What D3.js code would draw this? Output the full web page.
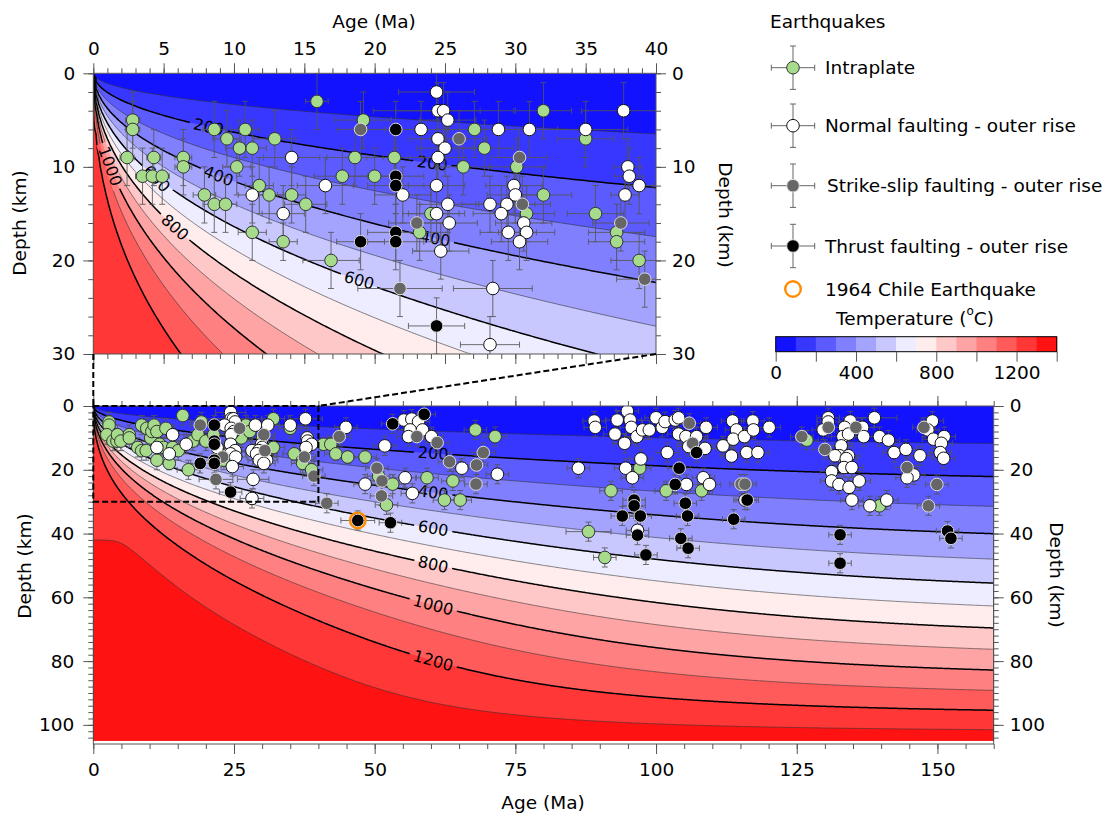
<!DOCTYPE html>
<html>
<head>
<meta charset="utf-8">
<script src="https://cdn.jsdelivr.net/npm/d3@7"></script>
<style>
  body { margin: 0; background: #fff; }
  svg text { font-family: "DejaVu Sans", sans-serif; }
</style>
</head>
<body>
<svg id="chart" width="1115" height="814"></svg>
<script>
// earthquakes: [age (Ma), depth (km), age error (Ma), depth error (km)]
var intraplate = [
  [2.8, 5, 0.5, 3], [2.8, 6, 0.5, 3], [2.4, 9, 0.5, 3], [3.5, 11, 0.5, 3], [4.2, 11, 0.5, 3],
  [4.3, 9, 0.5, 3], [4.9, 11, 0.5, 3], [6.4, 9, 0.6, 3], [6.4, 10, 0.6, 3], [7.9, 13, 0.8, 3],
  [8.6, 6, 0.8, 3], [8.6, 14, 0.8, 3], [9.4, 14, 0.8, 3], [9.5, 7, 1, 3], [10.2, 10, 1, 3],
  [10.4, 8, 1, 3], [10.8, 6, 1, 3], [11.3, 8, 1, 3], [11.3, 17, 1, 3], [11.8, 12, 1, 3],
  [12.5, 13, 1, 3], [12.9, 7, 1.5, 3], [13.5, 18, 1, 2], [14.1, 13, 1, 3], [15.1, 14, 1.5, 3],
  [15.9, 3, 0.8, 3], [16.9, 20, 2, 3], [17.7, 11, 2, 3], [18.6, 9, 2, 3], [19.2, 5, 2, 3],
  [20.0, 11, 2, 3], [21.4, 9, 2, 3], [24.0, 15, 2, 3], [23.2, 17, 2, 3], [26.3, 10, 2, 3],
  [27.1, 6, 2, 3], [27.8, 8, 2, 3], [30.1, 10, 2, 3], [30.8, 15, 2, 3], [32.0, 4, 2, 3],
  [32.0, 13, 2, 3], [35.0, 7, 2, 3], [35.7, 15, 2, 3], [37.2, 17, 2, 3], [37.2, 18, 2, 3],
  [38.8, 20, 2, 3],
  [40.9, 12, 2, 2], [42.2, 12, 2, 2], [43.1, 15, 2, 2], [45.2, 16, 2, 2], [48.3, 16, 2, 2],
  [50.7, 22, 2, 3], [53.2, 24.5, 2, 3], [52.1, 31, 2, 3], [59.3, 22.5, 2, 3], [63.9, 23.5, 2, 3],
  [62.4, 29.5, 2, 3], [65.2, 29.5, 2, 3], [67.9, 7.5, 2, 3], [71.4, 9.6, 2, 3], [88.0, 39.4, 4, 3],
  [90.9, 47.5, 2, 3], [92.0, 26.6, 2, 3], [97.1, 19.5, 2, 3], [101.8, 26.6, 2, 3], [108.1, 26.6, 2, 3],
  [126.8, 10.7, 2, 3], [139.7, 31.3, 2, 3]
];
var normal = [
  [11.3, 13, 1, 3], [13.5, 15, 1.5, 3], [14.1, 9, 2, 3], [16.5, 12, 2, 3], [24.4, 2, 2.7, 3],
  [24.5, 4, 3, 3], [24.9, 4, 5, 3], [25.2, 5, 2, 3], [23.3, 6, 2, 3], [24.5, 7, 2, 3],
  [25.0, 8, 2, 3], [28.8, 6, 2, 3], [31.0, 6, 2, 3], [35.0, 6, 3, 3], [37.7, 4, 3, 3],
  [24.5, 9, 2, 3], [38.0, 10, 1, 3], [38.1, 11, 1, 3], [38.8, 12, 1, 3], [37.8, 13, 1, 3],
  [22.0, 13, 2, 3], [24.4, 12, 2, 3], [29.9, 12, 2, 3], [30.0, 13, 2, 3], [25.2, 14, 2, 3],
  [24.4, 15, 2, 3], [28.2, 14, 2, 3], [29.4, 14, 2, 3], [29.0, 15, 2, 3], [30.6, 16, 2, 3],
  [30.8, 17, 2, 3], [29.5, 17, 2, 3], [30.3, 18, 2, 3], [25.3, 16, 2, 3], [24.7, 19, 2, 3],
  [28.4, 23, 2.8, 3], [28.2, 29, 2.1, 3],
  [44.9, 6.7, 2, 3], [51.8, 12.5, 2, 3], [55.2, 4.4, 2, 3], [56.6, 4.1, 2, 3], [57.8, 4.9, 2, 3],
  [56.3, 7.5, 2, 3], [58.5, 7.5, 2, 3], [56.0, 9.6, 2, 3], [60.1, 9.6, 2, 3], [65.5, 19.5, 2, 3],
  [71.8, 21.4, 2, 3], [48.3, 24.5, 2, 3], [55.4, 22.5, 2, 3], [56.7, 27.4, 2, 3],
  [89.0, 4.7, 2, 3], [89.2, 6.7, 2, 3], [94.9, 1.6, 2, 3], [93.1, 4.4, 2, 3], [95.4, 4.4, 2, 3],
  [95.6, 6.7, 2, 3], [92.7, 8.8, 2, 3], [94.4, 11.7, 2, 3], [96.6, 9.6, 2, 3], [97.6, 7.5, 2, 3],
  [98.8, 7.5, 2, 3], [100.0, 3.7, 2, 3], [101.1, 6.7, 2, 3], [101.6, 4.9, 2, 3], [103.4, 4.4, 2, 3],
  [104.0, 3.7, 2, 3], [104.0, 8.8, 2, 3], [105.3, 9.6, 2, 3], [107.2, 9.6, 2, 3], [105.8, 12.7, 2, 3],
  [108.9, 6.7, 2, 3], [108.7, 13.3, 2, 3], [102.0, 14.6, 2, 3], [111.9, 12.5, 2, 3], [113.4, 15.7, 2, 3],
  [113.6, 4.7, 2, 3], [114.3, 7.5, 2, 3], [113.7, 10.4, 2, 3], [115.7, 9.6, 2, 3], [117.2, 4.7, 2, 3],
  [117.3, 7.5, 2, 3], [116.1, 14.6, 2, 3], [118.1, 14.6, 2, 3],
  [97.3, 16.6, 2, 3], [86.2, 19.5, 2, 3], [94.6, 19.5, 2, 3], [95.8, 22.5, 2, 3], [108.4, 22.5, 2, 3],
  [109.5, 24.6, 2, 3], [105.4, 24.6, 2, 3], [115.8, 29.5, 2, 3], [96.7, 39.0, 2, 3],
  [120.1, 6.7, 2, 3], [130.6, 3.7, 2, 3], [130.6, 5.0, 2, 3], [129.7, 7.5, 2, 3], [134.5, 4.7, 2, 3],
  [136.7, 6.7, 2, 3], [133.5, 6.7, 2, 3], [133.2, 9.6, 2, 3], [134.2, 8.8, 2, 3], [136.9, 9.6, 2, 3],
  [138.8, 3.7, 4, 3], [139.7, 9.6, 2, 3], [141.3, 10.7, 2, 3], [132.9, 12.5, 2, 3], [132.6, 15.6, 2, 3],
  [131.8, 15.6, 2, 3], [134.2, 15.6, 2, 3], [133.8, 16.5, 2, 3], [133.4, 19.3, 2, 3], [134.8, 19.3, 2, 3],
  [131.2, 20.6, 2, 3], [131.2, 23.5, 2, 3], [132.5, 24.6, 2, 3], [134.3, 25.5, 2, 3], [136.1, 23.5, 2, 3],
  [134.8, 29.5, 2, 3], [138.0, 31.3, 2, 3], [141.0, 29.5, 2, 3], [142.3, 14.6, 2, 3], [144.4, 13.6, 2, 3],
  [146.9, 15.6, 2, 3], [145.8, 21.6, 2, 3], [144.6, 22.5, 2, 3], [149.1, 4.7, 2, 3], [148.3, 7.5, 2, 3],
  [149.3, 10.4, 2, 3], [151.2, 9.6, 2, 3], [150.7, 11.7, 2, 3], [150.5, 14.6, 2, 3], [151.1, 16.4, 2, 3]
];
var strikeSlip = [
  [19.0, 6, 1.7, 3], [26.0, 7, 2, 3], [30.3, 9, 2, 3], [30.5, 14, 2, 3], [23.0, 16, 2, 3],
  [37.5, 16, 2, 3], [39.2, 22, 2, 3], [21.8, 23, 3, 3],
  [43.7, 9.6, 2, 3], [57.5, 9.6, 2, 3], [61.1, 11.5, 2, 3], [69.3, 14.6, 2, 3], [63.3, 17.5, 2, 3],
  [68.1, 18.5, 2, 3], [50.4, 19.5, 2, 3], [51.3, 23.5, 2, 3], [68.0, 24.5, 2, 3], [51.2, 28.2, 2, 3],
  [41.5, 30.5, 2, 3], [105.9, 5.4, 2, 3], [106.5, 11.7, 2, 3], [115.1, 24.5, 2, 3], [115.8, 24.5, 2, 3],
  [125.9, 9.6, 2, 3], [130.0, 13.6, 2, 3], [130.6, 6.7, 2, 3], [135.5, 6.7, 2, 3], [144.6, 19.3, 2, 3],
  [149.9, 24.6, 2, 3], [148.4, 31.3, 2, 3], [147.6, 6.7, 2, 3]
];
var thrust = [
  [21.5, 6, 2, 3], [21.5, 11, 2, 3], [21.5, 12, 2, 3], [21.5, 17, 2, 3], [21.5, 18, 2, 3],
  [19.0, 18, 1.7, 3], [24.4, 27, 2, 3],
  [53.2, 5.6, 2, 3], [58.8, 2.6, 2, 3], [47.0, 35.9, 3, 3], [52.8, 36.6, 2, 3], [107.2, 14.6, 2, 3],
  [104.1, 19.5, 2, 3], [103.4, 24.6, 2, 3], [96.1, 29.5, 2, 3], [96.1, 31.3, 2, 3], [105.2, 30.5, 2, 3],
  [116.2, 29.5, 2, 3], [94.0, 34.5, 2, 3], [97.2, 34.5, 2, 3], [105.6, 34.5, 2, 3], [113.8, 35.5, 2, 3],
  [96.7, 40.5, 2, 3], [104.4, 41.5, 2, 3], [105.7, 44.6, 2, 3], [98.2, 46.7, 2, 3], [132.7, 40.4, 2, 3],
  [132.7, 49.3, 2, 3], [151.8, 39.2, 2, 3], [152.4, 41.5, 2, 3]
];
var chile = [[47.0, 35.9]];

var legendNames = ["Intraplate", "Normal faulting - outer rise", "Strike-slip faulting - outer rise", "Thrust faulting - outer rise"];
var isotherms = d3.range(100, 1400, 100);
var topLabels = [[200, 8.2], [200, 24.1], [400, 8.9], [400, 24.3], [600, 4.5], [600, 18.9], [800, 5.8], [1000, 1.2]];
var bottomLabels = [[200, 60.4], [400, 60.4], [600, 60.4], [800, 60.4], [1000, 60.4], [1200, 60.4]];
var cbarTicks = [0, 400, 800, 1200];

var FS = 18.5;
var svg = d3.select("#chart");

// ---- plate cooling model (conductivity and heat capacity from McKenzie et al. 2005) ----
var DZ = 0.5, ZMAX = 106, NZ = ZMAX / DZ + 1;
var DA = 0.2, AMAX = 160, NA = Math.round(AMAX / DA) + 1;
var MA = 3.15576e13, RHO = 3330, TBASE = 1375;

function conductivity(T) {
  var TK = T + 273;
  return 5.3 / (1 + 0.0015 * T) + 1.753e-2 - 1.0365e-4 * TK + 2.2451e-7 * TK * TK - 3.4071e-11 * TK * TK * TK;
}
function heatCapacity(T) {
  var TK = T + 273, s = Math.sqrt(TK), c3 = TK * TK * TK;
  var fo = 233.18 - 1801.6 / s - 29.794e7 / c3;
  var fa = 252 - 2013.7 / s - 6.219e7 / c3;
  return (0.89 * fo + 0.11 * fa) / (0.89 * 0.1407 + 0.11 * 0.2038);
}
function ridgeT(z) {
  return z >= 60 ? 1315 + 0.4 * z : 1339 - 2.17 * (60 - z);
}

var grid = new Float64Array(NA * NZ);
(function solve() {
  var T = new Float64Array(NZ);
  for (var j = 0; j < NZ; j++) T[j] = ridgeT(j * DZ);
  T[0] = 0;
  T[NZ - 1] = TBASE;
  var a = new Float64Array(NZ), b = new Float64Array(NZ), c = new Float64Array(NZ), d = new Float64Array(NZ);
  var cp = new Float64Array(NZ), dp = new Float64Array(NZ);
  var dzm = DZ * 1000, M = NZ - 2;
  for (j = 0; j < NZ; j++) grid[j * NA] = T[j];
  for (var n = 1; n < NA; n++) {
    var sub = n <= 10 ? 50 : (n <= 100 ? 10 : 4);
    var dt = DA * MA / sub;
    for (var s = 0; s < sub; s++) {
      for (j = 1; j <= M; j++) {
        var kp = conductivity(0.5 * (T[j] + T[j + 1]));
        var km = conductivity(0.5 * (T[j] + T[j - 1]));
        var f = dt / (RHO * heatCapacity(T[j]) * dzm * dzm);
        a[j] = -f * km; c[j] = -f * kp; b[j] = 1 + f * (km + kp); d[j] = T[j];
      }
      d[M] -= c[M] * TBASE;
      cp[1] = c[1] / b[1]; dp[1] = d[1] / b[1];
      for (j = 2; j <= M; j++) {
        var m = b[j] - a[j] * cp[j - 1];
        cp[j] = c[j] / m;
        dp[j] = (d[j] - a[j] * dp[j - 1]) / m;
      }
      T[M] = dp[M];
      for (j = M - 1; j >= 1; j--) T[j] = dp[j] - cp[j] * T[j + 1];
    }
    for (j = 0; j < NZ; j++) grid[j * NA + n] = T[j];
  }
})();

function bandColor(lo) {
  var t = (lo + 50) / 1400, v;
  if (t < 0.5) { v = Math.round(510 * t); return d3.rgb(v, v, 255).toString(); }
  v = Math.round(510 * (1 - t));
  return d3.rgb(255, v, v).toString();
}

var contourSets = d3.contours().size([NA, NZ]).thresholds(isotherms)(Array.from(grid));

function depthOf(age, value) {
  var i = Math.round(age / DA);
  for (var j = 1; j < NZ; j++) {
    var t0 = grid[(j - 1) * NA + i], t1 = grid[j * NA + i];
    if (t1 >= value) return (j - 1 + (value - t0) / (t1 - t0)) * DZ;
  }
  return ZMAX;
}

// ---- panels ----
var panelTop = { x: d3.scaleLinear([0, 40], [93.3, 656]), y: d3.scaleLinear([0, 30], [73.3, 354]), id: "T", zmax: 30 };
var panelBot = { x: d3.scaleLinear([0, 160], [93.3, 993.7]), y: d3.scaleLinear([0, 106], [406, 744]), id: "B", zmax: 105 };

var defs = svg.append("defs");

function drawField(p, labels) {
  var x0 = p.x.range()[0], x1 = p.x.range()[1], y0 = p.y.range()[0], yF = p.y(p.zmax);
  defs.append("clipPath").attr("id", "clip" + p.id)
    .append("rect").attr("x", x0).attr("y", y0).attr("width", x1 - x0).attr("height", p.y.range()[1] - y0);
  defs.append("clipPath").attr("id", "field" + p.id)
    .append("rect").attr("x", x0).attr("y", y0).attr("width", x1 - x0).attr("height", yF - y0);

  var path = d3.geoPath(d3.geoTransform({
    point: function(gx, gy) { this.stream.point(p.x((gx - 0.5) * DA), p.y((gy - 0.5) * DZ)); }
  }));

  var g = svg.append("g").attr("clip-path", "url(#field" + p.id + ")");
  g.append("rect").attr("x", x0).attr("y", y0).attr("width", x1 - x0).attr("height", yF - y0)
    .attr("fill", bandColor(0));
  g.selectAll("path.band").data(contourSets).join("path")
    .attr("class", "band").attr("d", path).attr("fill", function(d) { return bandColor(d.value); });

  // label positions on the isotherms
  var lab = labels.map(function(l) {
    var ax = p.x(l[1] - 0.4), bx = p.x(l[1] + 0.4);
    var ay = p.y(depthOf(l[1] - 0.4, l[0])), by = p.y(depthOf(l[1] + 0.4, l[0]));
    return { v: l[0], x: p.x(l[1]), y: p.y(depthOf(l[1], l[0])), r: Math.atan2(by - ay, bx - ax) * 180 / Math.PI };
  });

  var mask = defs.append("mask").attr("id", "mask" + p.id).attr("maskUnits", "userSpaceOnUse")
    .attr("x", 0).attr("y", 0).attr("width", 1115).attr("height", 814);
  mask.append("rect").attr("width", 1115).attr("height", 814).attr("fill", "#fff");
  mask.selectAll("rect.gap").data(lab).join("rect").attr("class", "gap")
    .attr("x", function(d) { return -(String(d.v).length * 10.2 + 8) / 2; })
    .attr("y", -6).attr("height", 12)
    .attr("width", function(d) { return String(d.v).length * 10.2 + 8; })
    .attr("transform", function(d) { return "translate(" + d.x + "," + d.y + ") rotate(" + d.r + ")"; })
    .attr("fill", "#000");

  g.append("g").attr("mask", "url(#mask" + p.id + ")")
    .selectAll("path.iso").data(contourSets).join("path")
    .attr("class", "iso").attr("d", path).attr("fill", "none")
    .attr("stroke", function(d) { return d.value % 200 === 0 ? "#000" : "#333"; })
    .attr("stroke-width", function(d) { return d.value % 200 === 0 ? 1.5 : 0.6; });

  g.selectAll("text.clab").data(lab).join("text").attr("class", "clab")
    .attr("transform", function(d) { return "translate(" + d.x + "," + d.y + ") rotate(" + d.r + ")"; })
    .attr("text-anchor", "middle").attr("dominant-baseline", "central")
    .attr("font-size", 16).attr("fill", "#000")
    .text(function(d) { return d.v; });
}

var styles = [
  { data: intraplate, fill: "#a6db8c", stroke: "#333" },
  { data: normal, fill: "#fff", stroke: "#111" },
  { data: strikeSlip, fill: "#666", stroke: "#ddd" },
  { data: thrust, fill: "#000", stroke: "#ddd" }
];

function drawQuakes(p) {
  var g = svg.append("g").attr("clip-path", "url(#clip" + p.id + ")");
  var eb = g.append("g").attr("stroke", "#555").attr("stroke-width", 1).attr("opacity", 0.85);
  styles.forEach(function(st) {
    st.data.forEach(function(q) {
      var cx = p.x(q[0]), cy = p.y(q[1]);
      var xa = p.x(q[0] - q[2]), xb = p.x(q[0] + q[2]);
      var ya = p.y(Math.max(q[1] - q[3], 0)), yb = p.y(q[1] + q[3]);
      eb.append("line").attr("x1", xa).attr("x2", xb).attr("y1", cy).attr("y2", cy);
      eb.append("line").attr("x1", cx).attr("x2", cx).attr("y1", ya).attr("y2", yb);
      [xa, xb].forEach(function(xx) { eb.append("line").attr("x1", xx).attr("x2", xx).attr("y1", cy - 3).attr("y2", cy + 3); });
      [ya, yb].forEach(function(yy) { eb.append("line").attr("x1", cx - 3).attr("x2", cx + 3).attr("y1", yy).attr("y2", yy); });
    });
  });
  styles.forEach(function(st) {
    g.append("g").selectAll("circle").data(st.data).join("circle")
      .attr("cx", function(d) { return p.x(d[0]); }).attr("cy", function(d) { return p.y(d[1]); })
      .attr("r", 6.3).attr("fill", st.fill).attr("stroke", st.stroke).attr("stroke-width", 1);
  });
  g.selectAll("circle.chile").data(chile).join("circle").attr("class", "chile")
    .attr("cx", function(d) { return p.x(d[0]); }).attr("cy", function(d) { return p.y(d[1]); })
    .attr("r", 7.8).attr("fill", "none").attr("stroke", "#ff8c00").attr("stroke-width", 2.4);
}

function addAxis(tx, ty, gen, scale, major, minor, pad, showLabels) {
  var gm = svg.append("g").attr("transform", "translate(" + tx + "," + ty + ")")
    .call(gen(scale).tickValues(minor).tickSize(5).tickSizeOuter(0).tickFormat(""));
  var gM = svg.append("g").attr("transform", "translate(" + tx + "," + ty + ")")
    .call(gen(scale).tickValues(major).tickSize(10).tickSizeOuter(0).tickPadding(pad)
      .tickFormat(showLabels ? d3.format("d") : function() { return ""; }));
  [gm, gM].forEach(function(g) {
    g.select(".domain").remove();
    g.selectAll("line").attr("stroke", "#555");
    g.selectAll("text").attr("font-size", FS).attr("fill", "#000").attr("font-family", "DejaVu Sans");
  });
}

function frame(p) {
  svg.append("rect").attr("x", p.x.range()[0]).attr("y", p.y.range()[0])
    .attr("width", p.x.range()[1] - p.x.range()[0]).attr("height", p.y.range()[1] - p.y.range()[0])
    .attr("fill", "none").attr("stroke", "#555").attr("stroke-width", 1);
}

drawField(panelTop, topLabels);
drawField(panelBot, bottomLabels);
drawQuakes(panelTop);
drawQuakes(panelBot);
frame(panelTop);
frame(panelBot);

// top panel axes
addAxis(0, 73.3, d3.axisTop, panelTop.x, d3.range(0, 41, 5), d3.range(0, 41, 1), 8, true);
addAxis(0, 354, d3.axisBottom, panelTop.x, d3.range(0, 41, 5), d3.range(0, 41, 1), 8, false);
addAxis(93.3, 0, d3.axisLeft, panelTop.y, d3.range(0, 31, 10), d3.range(0, 31, 2), 8, true);
addAxis(656, 0, d3.axisRight, panelTop.y, d3.range(0, 31, 10), d3.range(0, 31, 2), 6, true);
// bottom panel axes
addAxis(0, 744, d3.axisBottom, panelBot.x, d3.range(0, 161, 25), d3.range(0, 161, 5), 9, true);
addAxis(0, 406, d3.axisTop, panelBot.x, d3.range(0, 161, 25), d3.range(0, 161, 5), 8, false);
addAxis(93.3, 0, d3.axisLeft, panelBot.y, d3.range(0, 101, 20), d3.range(0, 106, 2), 9, true);
addAxis(993.7, 0, d3.axisRight, panelBot.y, d3.range(0, 101, 20), d3.range(0, 106, 2), 6, true);

function title(x, y, rot, txt) {
  svg.append("text").attr("transform", "translate(" + x + "," + y + ") rotate(" + rot + ")")
    .attr("text-anchor", "middle").attr("dominant-baseline", "central")
    .attr("font-size", FS).attr("fill", "#000").text(txt);
}
title(374, 21, 0, "Age (Ma)");
title(543, 802, 0, "Age (Ma)");
title(19, 223, -90, "Depth (km)");
title(24, 566, -90, "Depth (km)");
title(725, 215, 90, "Depth (km)");
title(1056, 575, 90, "Depth (km)");

// zoom indicator
var dash = svg.append("g").attr("fill", "none").attr("stroke", "#000").attr("stroke-width", 2).attr("stroke-dasharray", "6,3");
dash.append("rect").attr("x", panelBot.x(0)).attr("y", panelBot.y(0))
  .attr("width", panelBot.x(40) - panelBot.x(0)).attr("height", panelBot.y(30) - panelBot.y(0));
dash.append("line").attr("x1", panelTop.x(0)).attr("y1", panelTop.y(30)).attr("x2", panelBot.x(0)).attr("y2", panelBot.y(0));
dash.append("line").attr("x1", panelTop.x(40)).attr("y1", panelTop.y(30)).attr("x2", panelBot.x(40)).attr("y2", panelBot.y(0));

// legend
svg.append("text").attr("x", 770).attr("y", 21).attr("dominant-baseline", "central")
  .attr("font-size", FS).attr("fill", "#000").text("Earthquakes");
var legY = [67.7, 125.7, 185.7, 246];
styles.forEach(function(st, i) {
  var lx = 793, ly = legY[i];
  var lg = svg.append("g").attr("stroke", "#666").attr("stroke-width", 1);
  lg.append("line").attr("x1", lx - 21.7).attr("x2", lx + 21.7).attr("y1", ly).attr("y2", ly);
  lg.append("line").attr("x1", lx).attr("x2", lx).attr("y1", ly - 21.7).attr("y2", ly + 21.7);
  [-21.7, 21.7].forEach(function(o) {
    lg.append("line").attr("x1", lx + o).attr("x2", lx + o).attr("y1", ly - 3).attr("y2", ly + 3);
    lg.append("line").attr("x1", lx - 3).attr("x2", lx + 3).attr("y1", ly + o).attr("y2", ly + o);
  });
  svg.append("circle").attr("cx", lx).attr("cy", ly).attr("r", 6.3)
    .attr("fill", st.fill).attr("stroke", st.stroke).attr("stroke-width", 1);
  svg.append("text").attr("x", i === 2 ? 827 : 825).attr("y", ly).attr("dominant-baseline", "central")
    .attr("font-size", FS).attr("fill", "#000").text(legendNames[i]);
});
svg.append("circle").attr("cx", 793).attr("cy", 289).attr("r", 7.8)
  .attr("fill", "none").attr("stroke", "#ff8c00").attr("stroke-width", 2.4);
svg.append("text").attr("x", 825).attr("y", 289).attr("dominant-baseline", "central")
  .attr("font-size", FS).attr("fill", "#000").text("1964 Chile Earthquake");

// colour bar
var cx = d3.scaleLinear([0, 1400], [775.7, 1056.7]);
var ct = svg.append("text").attr("x", 915).attr("y", 318).attr("text-anchor", "middle")
  .attr("dominant-baseline", "central").attr("font-size", FS).attr("fill", "#000");
ct.append("tspan").text("Temperature (");
ct.append("tspan").attr("dy", -7).attr("font-size", 12).text("o");
ct.append("tspan").attr("dy", 7).text("C)");
svg.append("g").selectAll("rect").data(d3.range(0, 1400, 100)).join("rect")
  .attr("x", function(d) { return cx(d); }).attr("y", 336.7)
  .attr("width", cx(100) - cx(0) + 0.5).attr("height", 15)
  .attr("fill", function(d) { return bandColor(d); });
svg.append("rect").attr("x", cx(0)).attr("y", 336.7).attr("width", cx(1400) - cx(0)).attr("height", 15)
  .attr("fill", "none").attr("stroke", "#000").attr("stroke-width", 1);
var cb = svg.append("g").attr("transform", "translate(0,351.7)")
  .call(d3.axisBottom(cx).tickValues(d3.range(0, 1401, 200)).tickSize(10).tickSizeOuter(0).tickPadding(4)
    .tickFormat(function(d) { return cbarTicks.indexOf(d) >= 0 ? d : ""; }));
cb.select(".domain").remove();
cb.selectAll("line").attr("stroke", "#555");
cb.selectAll("text").attr("font-size", FS).attr("fill", "#000").attr("font-family", "DejaVu Sans");
</script>
</body>
</html>
